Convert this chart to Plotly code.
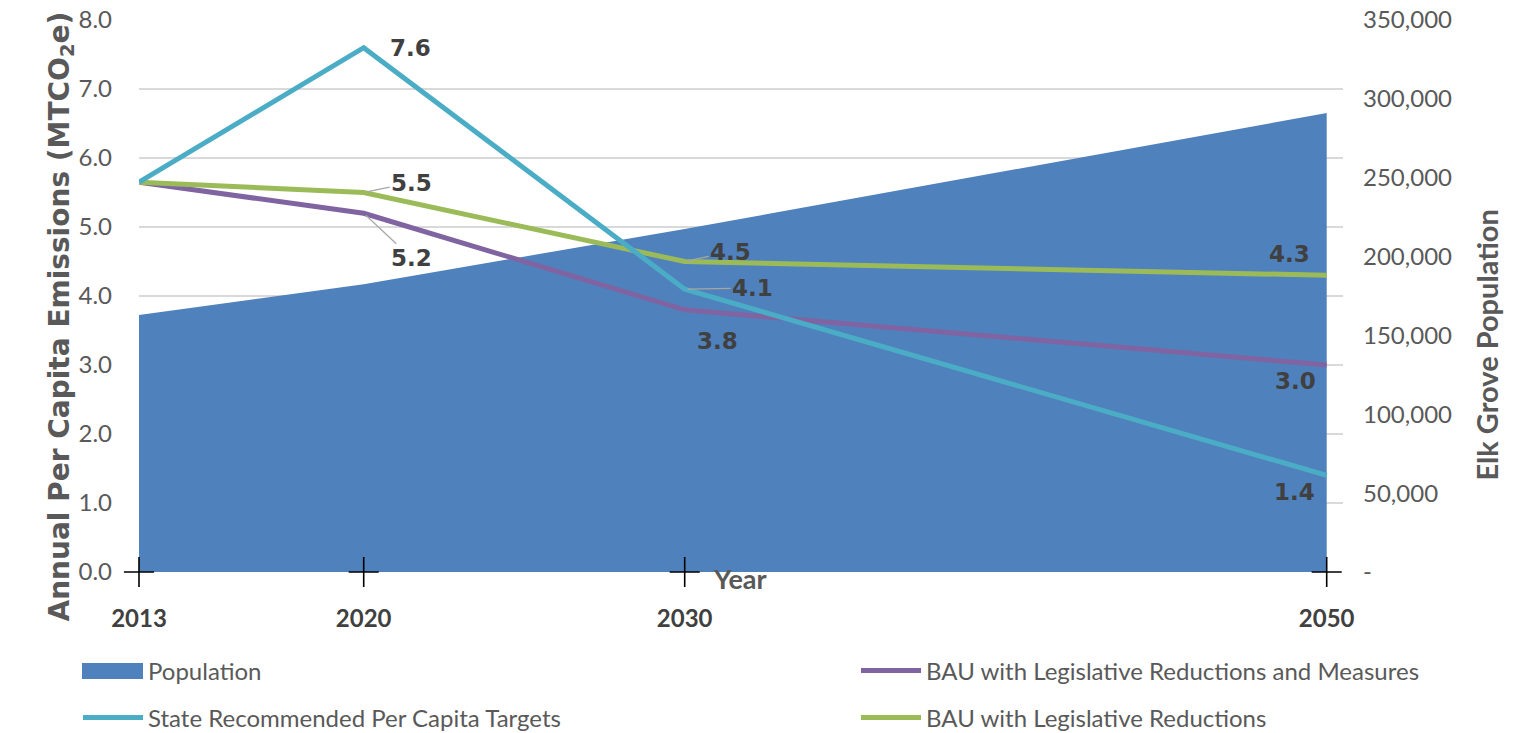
import plotly.graph_objects as go

years = [2013, 2020, 2030, 2050]
population = [163000, 182500, 217500, 291000]
state_targets = [5.65, 7.6, 4.1, 1.4]
bau_leg_measures = [5.65, 5.2, 3.8, 3.0]
bau_leg = [5.65, 5.5, 4.5, 4.3]
left_ticks = [0, 1, 2, 3, 4, 5, 6, 7, 8]
right_ticks = [0, 50000, 100000, 150000, 200000, 250000, 300000, 350000]
right_labels = ["-", "50,000", "100,000", "150,000", "200,000", "250,000", "300,000", "350,000"]

C_POP = "#4F81BD"
C_STATE = "#4BACC6"
C_PURP = "#8064A2"
C_GREEN = "#9BBB59"
GRAY = "#595959"
DARK = "#404040"

# the page body has an 8px margin: figure coordinates = screen coordinates - 8
OFF = 8
W, H = 1528 - OFF, 733 - OFF
L, R, T, B = 139 - OFF, 1343 - OFF, 20 - OFF, 572 - OFF
PW, PH = R - L, B - T
EPS = 1.0001  # keep the top gridline/tick inside the range


def px(xs):
    return (xs - OFF - L) / PW


def py(ys):
    return (B - (ys - OFF)) / PH


fig = go.Figure()

fig.add_trace(go.Scatter(
    x=years, y=population, name="Population", mode="none", fill="tozeroy",
    fillcolor=C_POP, yaxis="y", legend="legend", hoverinfo="skip"))

fig.add_trace(go.Scatter(
    x=years, y=bau_leg_measures, name="BAU with Legislative Reductions and Measures",
    mode="lines", line=dict(color=C_PURP, width=5), yaxis="y2", legend="legend2"))
fig.add_trace(go.Scatter(
    x=years, y=bau_leg, name="BAU with Legislative Reductions",
    mode="lines", line=dict(color=C_GREEN, width=5), yaxis="y2", legend="legend4"))
fig.add_trace(go.Scatter(
    x=years, y=state_targets, name="State Recommended Per Capita Targets",
    mode="lines", line=dict(color=C_STATE, width=5), yaxis="y2", legend="legend3"))

fig.add_trace(go.Scatter(
    x=years, y=[0] * len(years), mode="markers", yaxis="y2", showlegend=False,
    marker=dict(symbol="cross-thin", size=21.5, line=dict(color="black", width=1.6)),
    cliponaxis=False, hoverinfo="skip"))

lab_font = dict(family="DejaVu Sans", size=23, color=DARK)
ann = []


def lab(series, i, dx, dy, arrow):
    v = series[i]
    if arrow:
        ann.append(dict(x=years[i], y=v, xref="x", yref="y2", text="<b>%.1f</b>" % v,
                        showarrow=True, arrowhead=0, arrowwidth=1.2, arrowcolor="#A6A6A6",
                        ax=dx, ay=dy, standoff=3, font=lab_font))
    else:
        ann.append(dict(x=years[i], y=v, xref="x", yref="y2", text="<b>%.1f</b>" % v,
                        showarrow=False, xshift=dx, yshift=-dy, font=lab_font))


lab(state_targets, 1, 47, 0, False)
lab(bau_leg, 1, 48, -10, True)
lab(bau_leg_measures, 1, 48, 45, True)
lab(bau_leg, 2, 46, -10, True)
lab(state_targets, 2, 68, -1, True)
lab(bau_leg_measures, 2, 33, 31, False)
lab(bau_leg, 3, -37, -21, False)
lab(bau_leg_measures, 3, -31, 16, False)
lab(state_targets, 3, -32, 17, False)

ann.append(dict(x=px(40), y=py(317), xref="paper", yref="paper", textangle=-90,
                text="<b>Annual Per Capita Emissions (MTCO<sub>2</sub>e)</b>", showarrow=False,
                font=dict(family="DejaVu Sans", size=28, color=GRAY)))
ann.append(dict(x=px(1505), y=py(345), xref="paper", yref="paper", textangle=-90,
                text="<b>Elk Grove Population</b>", showarrow=False,
                font=dict(family="Lato", size=29, color=GRAY)))
ann.append(dict(x=px(740), y=py(597), xref="paper", yref="paper",
                text="<b>Year</b>", showarrow=False,
                font=dict(family="Lato", size=27, color=GRAY)))

leg_common = dict(orientation="v", xanchor="left", yanchor="middle", bgcolor="rgba(0,0,0,0)",
                  font=dict(family="Lato", size=24, color=GRAY), itemwidth=60)

# enlarge the Population legend swatch to a block, as in the reference legend
shapes = [dict(type="rect", xref="paper", yref="paper", layer="above",
               x0=px(82), x1=px(143), y0=py(679), y1=py(663),
               fillcolor=C_POP, line=dict(width=0))]

fig.update_layout(
    width=W, height=H,
    margin=dict(l=L, r=W - R, t=T, b=H - B, autoexpand=False),
    paper_bgcolor="white", plot_bgcolor="white",
    font=dict(family="Lato", color=GRAY),
    xaxis=dict(range=[2013, 2013 + (R - L) / 32.1], tickvals=years,
               ticktext=["<b>%d</b>" % y for y in years],
               tickfont=dict(family="Lato", size=24, color=DARK),
               showgrid=False, zeroline=False, showline=False, ticks="",
               ticklabelstandoff=30, ticklabeloverflow="allow"),
    yaxis=dict(range=[0, right_ticks[-1] * EPS], side="right", tickvals=right_ticks,
               ticktext=right_labels,
               tickfont=dict(family="Lato", size=24, color=GRAY),
               showgrid=False, zeroline=False, showline=False, ticks="",
               ticklabelstandoff=19, ticklabeloverflow="allow"),
    yaxis2=dict(range=[0, left_ticks[-1] * EPS], side="left", overlaying="y",
                tickvals=left_ticks,
                tickformat=".1f", tickfont=dict(family="Lato", size=24, color=GRAY),
                showgrid=True, gridcolor="#D9D9D9", gridwidth=1.5,
                zeroline=False, showline=False, ticks="", ticklabelstandoff=26,
                ticklabeloverflow="allow"),
    legend=dict(x=px(78), y=py(671), **leg_common),
    legend2=dict(x=px(856), y=py(671), **leg_common),
    legend3=dict(x=px(78), y=py(718), **leg_common),
    legend4=dict(x=px(856), y=py(718), **leg_common),
    annotations=ann,
    shapes=shapes,
    hovermode=False,
)

fig.write_html("out.html")
